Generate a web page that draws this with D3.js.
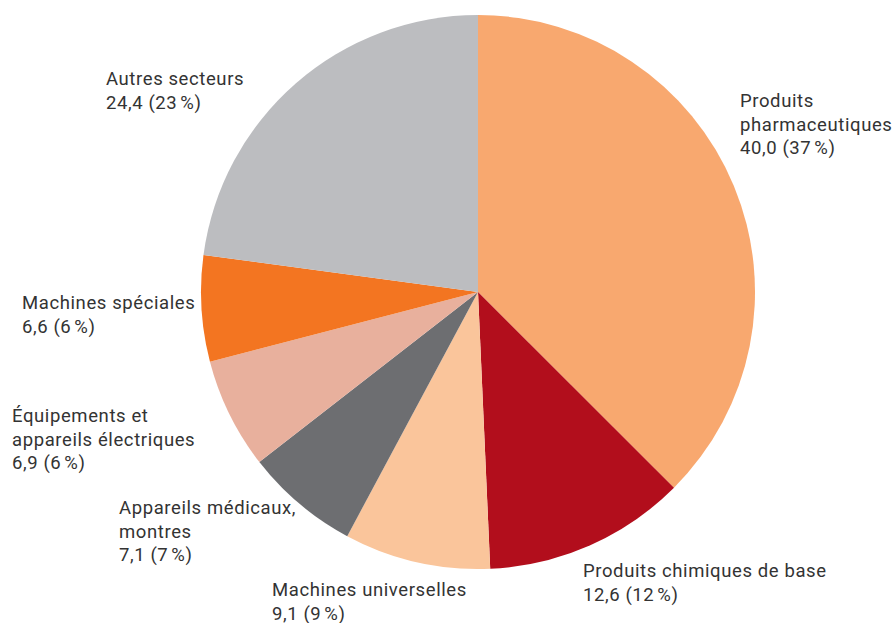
<!DOCTYPE html>
<html>
<head>
<meta charset="utf-8">
<script src="https://cdn.jsdelivr.net/npm/d3@7"></script>
<style>
  body { margin: 0; background: #fff; }
  svg { display: block; }
</style>
</head>
<body>
<svg id="chart"></svg>
<script>
const sectors = [
  ["Produits", "pharmaceutiques"],
  ["Produits chimiques de base"],
  ["Machines universelles"],
  ["Appareils médicaux,", "montres"],
  ["Équipements et", "appareils électriques"],
  ["Machines spéciales"],
  ["Autres secteurs"]
];
const values = [40.0, 12.6, 9.1, 7.1, 6.9, 6.6, 24.4];
const shares = [37, 12, 9, 7, 6, 6, 23];
const colors = ["#F8A86F", "#B20E1C", "#FAC59B", "#6D6E71", "#E8B09D", "#F37521", "#BCBDC0"];

// first baseline of each label block
const labelPos = [[740, 107], [583, 577], [272, 596], [119, 514], [12, 422], [22, 309], [106, 85]];

const width = 896;
const height = 623;
const cx = 478, cy = 292, radius = 277;
const lineH = 23.5;

const svg = d3.select("#chart")
  .attr("width", width)
  .attr("height", height);

const pie = d3.pie().sort(null).value(d => d);
const arc = d3.arc().innerRadius(0).outerRadius(radius);

const g = svg.append("g").attr("transform", `translate(${cx},${cy})`);

g.selectAll("path")
  .data(pie(values))
  .enter()
  .append("path")
  .attr("d", arc)
  .attr("fill", (d, i) => colors[i]);

const fmt = v => v.toFixed(1).replace(".", ",");

const labels = svg.selectAll(".label")
  .data(sectors)
  .enter()
  .append("text")
  .attr("class", "label")
  .attr("x", (d, i) => labelPos[i][0])
  .attr("y", (d, i) => labelPos[i][1])
  .attr("font-family", "Roboto, 'Noto Sans', sans-serif")
  .attr("font-size", "18.5px")
  .attr("letter-spacing", "0.6px")
  .attr("fill", "#333");

labels.each(function (d, i) {
  const t = d3.select(this);
  const lines = d.concat([`${fmt(values[i])} (${shares[i]}\u202F%)`]);
  lines.forEach((line, j) => {
    t.append("tspan")
      .attr("x", labelPos[i][0])
      .attr("dy", j === 0 ? 0 : lineH)
      .text(line);
  });
});
</script>
</body>
</html>
